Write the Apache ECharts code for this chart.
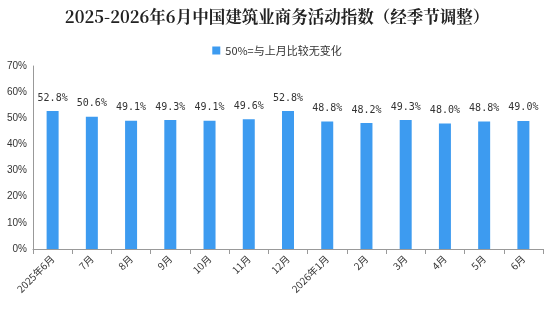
<!DOCTYPE html>
<html>
<head>
<meta charset="utf-8">
<script src="https://cdn.jsdelivr.net/npm/echarts@6/dist/echarts.min.js"></script>
<style>
  html, body { margin: 0; padding: 0; background: #fff; }
  #chart { width: 554px; height: 333px; }
</style>
</head>
<body>
<div id="chart"></div>
<script>
const months = ['2025年6月', '7月', '8月', '9月', '10月', '11月', '12月', '2026年1月', '2月', '3月', '4月', '5月', '6月'];
const indexValues = [52.8, 50.6, 49.1, 49.3, 49.1, 49.6, 52.8, 48.8, 48.2, 49.3, 48.0, 48.8, 49.0];
const seriesName = '50%=与上月比较无变化';

const chart = echarts.init(document.getElementById('chart'));
chart.setOption({
    animation: false,
    title: {
        text: '2025-2026年6月中国建筑业商务活动指数（经季节调整）',
        left: 'center',
        top: 3,
        textStyle: {
            fontFamily: '"Noto Serif CJK SC", "Noto Sans CJK SC", serif',
            fontSize: 16.5,
            fontWeight: 'bold',
            color: '#222'
        }
    },
    legend: {
        top: 40,
        left: 'center',
        itemWidth: 8,
        itemHeight: 8,
        itemGap: 4,
        icon: 'rect',
        textStyle: { fontSize: 11, color: '#333', fontFamily: '"Noto Sans CJK SC", sans-serif' }
    },
    grid: { left: 33, right: 11, top: 66, bottom: 84 },
    xAxis: {
        type: 'category',
        data: months,
        axisLine: { lineStyle: { color: '#999' } },
        axisTick: { show: true, alignWithLabel: false, lineStyle: { color: '#999' } },
        axisLabel: {
            rotate: 45,
            interval: 0,
            fontSize: 10,
            color: '#333',
            margin: 8,
            fontFamily: '"Noto Sans CJK SC", sans-serif'
        }
    },
    yAxis: {
        type: 'value',
        min: 0,
        max: 70,
        interval: 10,
        axisLine: { show: true, lineStyle: { color: '#999' } },
        axisTick: { show: false },
        splitLine: { show: false },
        axisLabel: {
            formatter: '{value}%',
            fontSize: 10,
            color: '#333',
            margin: 6
        }
    },
    series: [{
        name: seriesName,
        type: 'bar',
        data: indexValues,
        barWidth: 12,
        itemStyle: { color: '#3d9bf0' },
        label: {
            show: true,
            position: 'top',
            distance: 8,
            formatter: p => p.value.toFixed(1) + '%',
            fontSize: 10,
            color: '#333',
            fontFamily: '"DejaVu Sans Mono", monospace'
        }
    }]
});
</script>
</body>
</html>
